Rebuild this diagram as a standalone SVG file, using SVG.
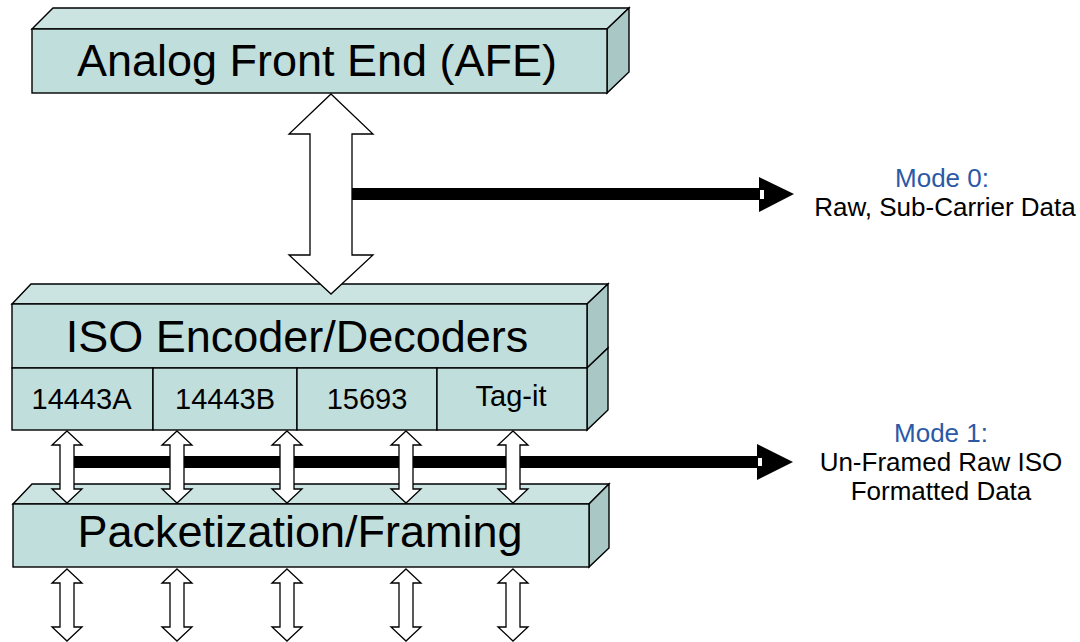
<svg xmlns="http://www.w3.org/2000/svg" xmlns:xlink="http://www.w3.org/1999/xlink" width="1080" height="642" viewBox="0 0 1080 642">
  <style>
    .front { fill: #C0DEDB; stroke: #000; stroke-width: 1.4; stroke-linejoin: miter; }
    .top { fill: #CBE4E2; stroke: #000; stroke-width: 1.4; }
    .side { fill: #A9C7C5; stroke: #000; stroke-width: 1.4; }
    .big { font-family: "Liberation Sans", Arial, sans-serif; font-size: 45px; fill: #000; text-anchor: middle; }
    .cell { font-family: "Liberation Sans", Arial, sans-serif; font-size: 29px; fill: #000; text-anchor: middle; }
    .note { font-family: "Liberation Sans", Arial, sans-serif; font-size: 26px; fill: #000; text-anchor: middle; }
    .mode { fill: #2B59A6; }
    .darr { fill: #fff; stroke: #000; stroke-width: 1.3; stroke-linejoin: miter; }
    .bar { fill: #000; }
    .notch { fill: #fff; }
  </style>
  <defs>
    <path id="dbl" d="M0,0 L15,14 L7,14 L7,58 L15,58 L0,72 L-15,58 L-7,58 L-7,14 L-15,14 Z"/>
  </defs>

  <g id="afe">
    <polygon class="top" points="32,29 53,8 629,8 607,29"/>
    <polygon class="side" points="607,29 629,8 629,72 607,93"/>
    <rect class="front" x="32" y="29" width="575" height="64"/>
    <text class="big" x="317" y="76">Analog Front End (AFE)</text>
  </g>

  <g id="iso">
    <polygon class="top" points="12,304 31,284 608,284 587,304"/>
    <polygon class="side" points="587,304 608,284 608,348 587,368"/>
    <polygon class="side" points="587,368 608,348 608,410 587,430"/>
    <rect class="front" x="12" y="304" width="575" height="64"/>
    <text class="big" x="297" y="352">ISO Encoder/Decoders</text>
  </g>

  <g id="cell-14443a">
    <rect class="front" x="12" y="368" width="141" height="62"/>
    <text class="cell" x="81.5" y="409">14443A</text>
  </g>
  <g id="cell-14443b">
    <rect class="front" x="153" y="368" width="144" height="62"/>
    <text class="cell" x="225" y="409">14443B</text>
  </g>
  <g id="cell-15693">
    <rect class="front" x="297" y="368" width="140" height="62"/>
    <text class="cell" x="367" y="409">15693</text>
  </g>
  <g id="cell-tagit">
    <rect class="front" x="437" y="368" width="150" height="62"/>
    <text class="cell" x="511" y="406">Tag-it</text>
  </g>

  <g id="packetization">
    <polygon class="top" points="13,504 32,484 609,484 589,504"/>
    <polygon class="side" points="589,504 609,484 609,548 589,567"/>
    <rect class="front" x="13" y="504" width="576" height="63"/>
    <text class="big" x="300" y="547">Packetization/Framing</text>
  </g>

  <g id="connectors">
    <rect class="bar" x="340" y="188" width="420" height="12"/>
    <polygon class="bar" points="759,177 794,194 759,212"/>
    <rect class="notch" x="760" y="190" width="4" height="9"/>
    <path class="darr" d="M331,94 L373,134 L352,134 L352,255 L373,255 L331,294 L289,255 L310,255 L310,134 L289,134 Z"/>

    <rect class="bar" x="70" y="456" width="690" height="12"/>
    <polygon class="bar" points="757,444 793,462 757,480"/>
    <rect class="notch" x="758" y="458" width="4" height="8"/>

    <use xlink:href="#dbl" class="darr" x="67" y="431"/>
    <use xlink:href="#dbl" class="darr" x="177" y="431"/>
    <use xlink:href="#dbl" class="darr" x="287" y="431"/>
    <use xlink:href="#dbl" class="darr" x="406" y="431"/>
    <use xlink:href="#dbl" class="darr" x="513" y="431"/>

    <use xlink:href="#dbl" class="darr" x="67" y="569"/>
    <use xlink:href="#dbl" class="darr" x="177" y="569"/>
    <use xlink:href="#dbl" class="darr" x="287" y="569"/>
    <use xlink:href="#dbl" class="darr" x="406" y="569"/>
    <use xlink:href="#dbl" class="darr" x="513" y="569"/>
  </g>

  <g id="mode0-label">
    <text class="note mode" x="942" y="187">Mode 0:</text>
    <text class="note" x="945" y="216">Raw, Sub-Carrier Data</text>
  </g>
  <g id="mode1-label">
    <text class="note mode" x="941" y="442">Mode 1:</text>
    <text class="note" x="941" y="471">Un-Framed Raw ISO</text>
    <text class="note" x="941" y="500">Formatted Data</text>
  </g>
</svg>
